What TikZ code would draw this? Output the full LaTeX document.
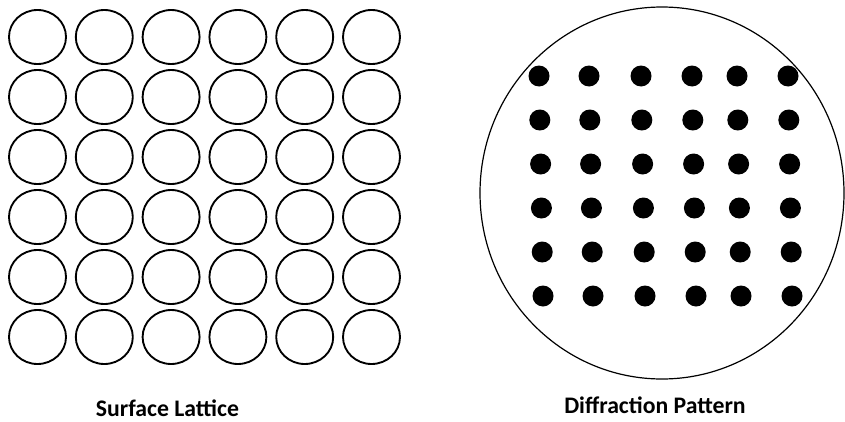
\documentclass[tikz,border=0pt]{standalone}
\usepackage{fontspec}
\setmainfont{Carlito}
\usetikzlibrary{shapes.geometric}

\begin{document}
\begin{tikzpicture}[
  x=0.75pt, y=-0.75pt,
  cell/.style={draw, ellipse, line width=1.4pt, inner sep=0pt, outer sep=0pt,
               minimum width=42.75pt, minimum height=40.5pt},
  screen/.style={draw, ellipse, line width=0.9pt, inner sep=0pt, outer sep=0pt,
                 minimum width=273pt, minimum height=279pt},
  spot/.style={fill, circle, inner sep=0pt, outer sep=0pt, minimum size=15.75pt},
  caption/.style={anchor=base, inner sep=0pt, font=\fontsize{17.8}{20}\selectfont\bfseries},
]
\useasboundingbox (0,0) rectangle (845,421);

% Surface lattice (6 x 6)
\foreach \r in {0,...,5}
  \foreach \c in {0,...,5}
    \node[cell] (cell-\r-\c) at ({37.5+66.8*\c},{37+60*\r}) {};

% Diffraction screen
\node[screen] (screen) at (662,193) {};

% Diffraction spots (6 x 6)
\foreach \r in {0,...,5}
  \foreach \xc [count=\c] in {539,589,641,692,737,788}
    \node[spot] (spot-\r-\c) at ({\xc+0.8*\r},{76+44*\r}) {};

% Captions
\node[caption] (lattice) at (167.5,416) {Surface Lattice};
\node[caption] (pattern) at (655,413) {Diffraction Pattern};

\end{tikzpicture}
\end{document}
